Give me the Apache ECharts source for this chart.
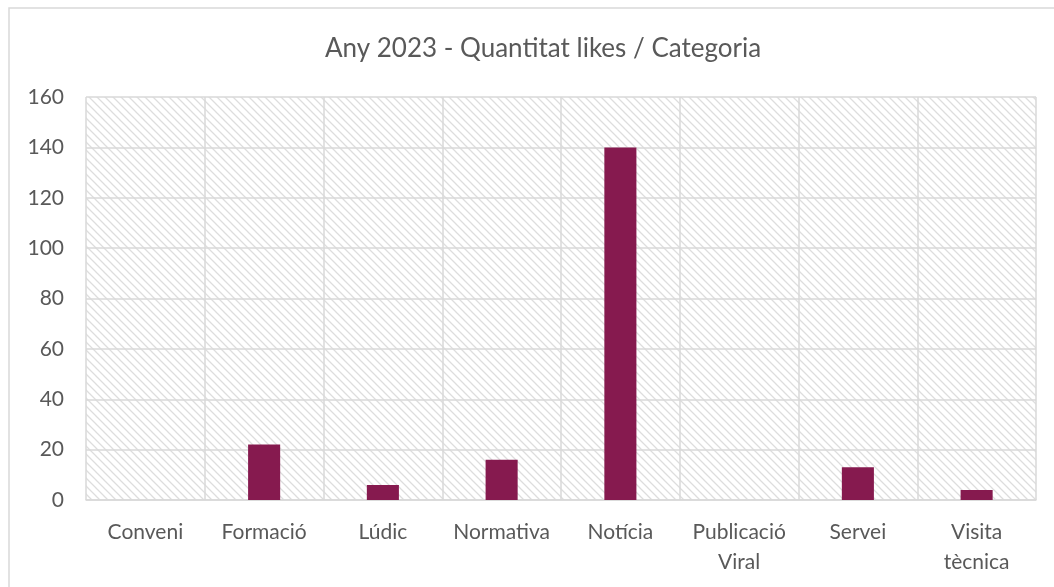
<!DOCTYPE html>
<html><head><meta charset="utf-8">
<script src="https://cdn.jsdelivr.net/npm/echarts@6/dist/echarts.min.js"></script>
<style>html,body{margin:0;padding:0;background:#fff}#c{width:1054px;height:587px}</style>
</head><body><div id="c"></div>
<script>
const categories = ['Conveni','Formació','Lúdic','Normativa','Notícia','Publicació\nViral','Servei','Visita\ntècnica'];
const likes = [0, 22, 6, 16, 140, 0, 13, 4];
const yTicks = {min: 0, max: 160, interval: 20};
const titleText = 'Any 2023 - Quantitat likes / Categoria';

// hatch pattern
const pc = document.createElement('canvas');
pc.width = 8; pc.height = 8;
const g = pc.getContext('2d');
g.fillStyle = '#ffffff'; g.fillRect(0,0,8,8);
g.strokeStyle = '#dddddd'; g.lineWidth = 1.3;
g.beginPath();
g.moveTo(-1,-1); g.lineTo(9,9);
g.moveTo(-9,-1); g.lineTo(1,9);
g.moveTo(7,-1); g.lineTo(17,9);
g.stroke();

const font = 'Lato, "Open Sans", sans-serif';
const chart = echarts.init(document.getElementById('c'));
chart.setOption({
  animation: false,
  title: {text: titleText, left: 320, top: 31,
    textStyle: {fontFamily: font, fontSize: 26, fontWeight: 'normal', color: '#595959'}},
  graphic: [{type: 'rect', shape: {x: 9, y: 8, width: 1100, height: 700},
    style: {fill: 'none', stroke: '#d9d9d9', lineWidth: 1.5}, silent: true, z: -1}],
  grid: {left: 86, right: 18, top: 97, bottom: 87, show: true,
    backgroundColor: {image: pc, repeat: 'repeat'}, borderWidth: 0},
  xAxis: {type: 'category', data: categories,
    axisLine: {show: true, lineStyle: {color: '#d9d9d9', width: 1.5}},
    axisTick: {show: false},
    splitLine: {show: true, lineStyle: {color: '#d9d9d9', width: 1.5}},
    axisLabel: {fontFamily: font, fontSize: 21, color: '#595959', margin: 17, lineHeight: 30, interval: 0}},
  yAxis: {type: 'value', min: yTicks.min, max: yTicks.max, interval: yTicks.interval,
    axisLine: {show: false}, axisTick: {show: false},
    splitLine: {lineStyle: {color: '#d9d9d9', width: 1.5}},
    axisLabel: {fontFamily: font, fontSize: 21, color: '#595959', margin: 22}},
  series: [{type: 'bar', data: likes, barWidth: '27%',
    itemStyle: {color: '#861a4f'}}]
});
</script></body></html>
